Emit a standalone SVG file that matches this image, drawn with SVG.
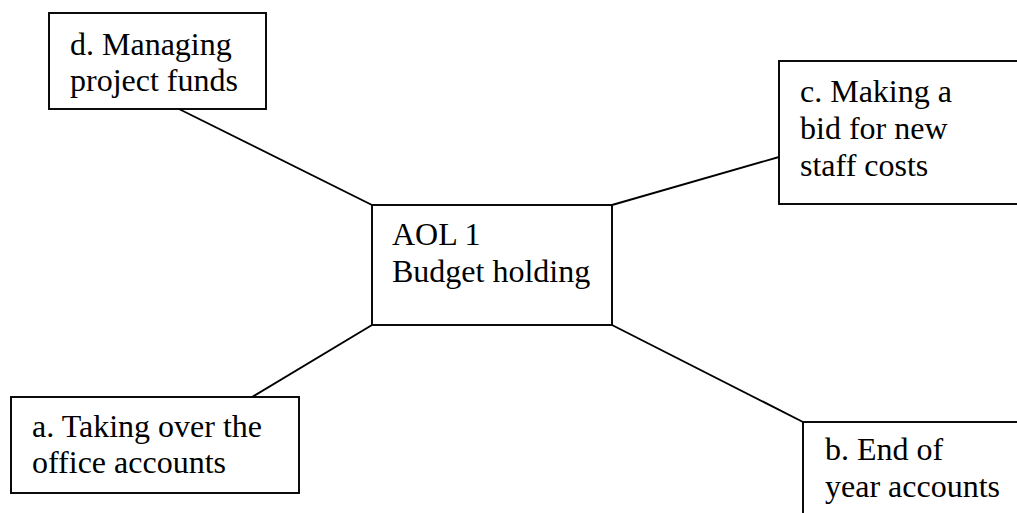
<svg xmlns="http://www.w3.org/2000/svg" width="1017" height="513" viewBox="0 0 1017 513">
  <style>
    .box { fill: #ffffff; stroke: #000000; stroke-width: 1.9; }
    .link { stroke: #000000; stroke-width: 1.9; fill: none; }
    .label { font-family: "Liberation Serif", "Times New Roman", serif; font-size: 32px; fill: #000000; }
  </style>
  <rect x="0" y="0" width="1017" height="513" fill="#ffffff"/>

  <!-- connectors from the central box to each activity -->
  <g id="connectors">
    <line class="link" x1="179" y1="109" x2="372" y2="205"/>
    <line class="link" x1="612" y1="205" x2="779" y2="157"/>
    <line class="link" x1="372" y1="325" x2="252" y2="397"/>
    <line class="link" x1="612" y1="325" x2="803" y2="422"/>
  </g>

  <g id="node-centre">
    <rect class="box" x="372" y="205" width="240" height="120"/>
    <text class="label" x="392" y="245">AOL 1</text>
    <text class="label" x="392" y="282">Budget holding</text>
  </g>

  <g id="node-d">
    <rect class="box" x="49" y="13" width="217" height="96"/>
    <text class="label" x="70" y="55">d. Managing</text>
    <text class="label" x="70" y="91">project funds</text>
  </g>

  <g id="node-c">
    <rect class="box" x="779" y="61" width="260" height="143"/>
    <text class="label" x="800" y="102">c. Making a</text>
    <text class="label" x="800" y="139">bid for new</text>
    <text class="label" x="800" y="176">staff costs</text>
  </g>

  <g id="node-a">
    <rect class="box" x="11" y="397" width="288" height="96"/>
    <text class="label" x="32" y="437">a. Taking over the</text>
    <text class="label" x="32" y="473">office accounts</text>
  </g>

  <g id="node-b">
    <rect class="box" x="803" y="422" width="240" height="120"/>
    <text class="label" x="825" y="460">b. End of</text>
    <text class="label" x="825" y="497">year accounts</text>
  </g>
</svg>
